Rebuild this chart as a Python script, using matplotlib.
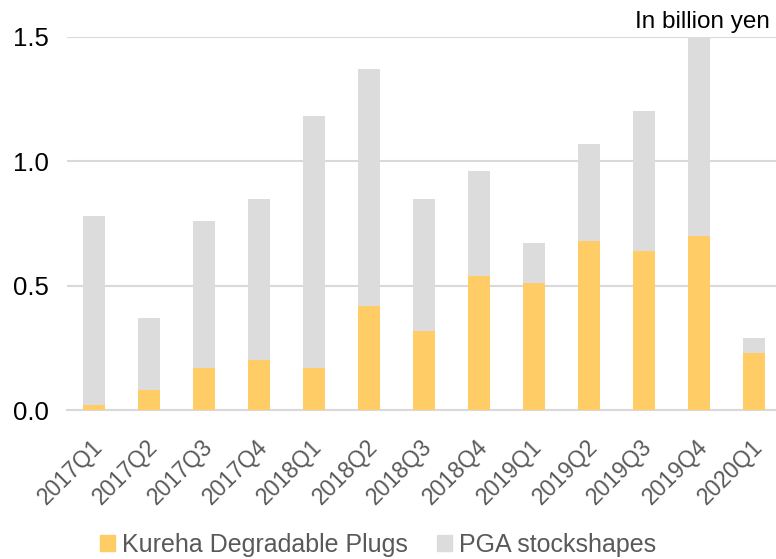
import numpy as np
import matplotlib
matplotlib.use("Agg")
import matplotlib.pyplot as plt
import matplotlib.transforms as mtransforms
from matplotlib.patches import Patch

quarters = ["2017Q1", "2017Q2", "2017Q3", "2017Q4", "2018Q1", "2018Q2", "2018Q3",
            "2018Q4", "2019Q1", "2019Q2", "2019Q3", "2019Q4", "2020Q1"]
plugs = [0.02, 0.08, 0.17, 0.20, 0.17, 0.42, 0.32, 0.54, 0.51, 0.68, 0.64, 0.70, 0.23]
totals = [0.78, 0.37, 0.76, 0.85, 1.18, 1.37, 0.85, 0.96, 0.67, 1.07, 1.20, 1.50, 0.29]
pga = [t - p for t, p in zip(totals, plugs)]
yticks = [0.0, 0.5, 1.0, 1.5]

orange = "#FFCC66"
grey = "#DCDCDC"

plt.rcParams["font.family"] = ["Liberation Sans", "DejaVu Sans"]

fig = plt.figure(figsize=(7.76, 5.59), dpi=100)
ax = fig.add_axes([66.5 / 776, 148.7 / 559, (776 - 66.5) / 776, 373.6 / 559])

x = np.arange(len(quarters))
ax.bar(x, plugs, width=0.4, color=orange, zorder=3)
ax.bar(x, pga, width=0.4, bottom=plugs, color=grey, zorder=3)

ax.set_xlim(-0.5, 12.4)
ax.set_ylim(0, 1.5)
ax.set_yticks(yticks)
ax.set_yticklabels([f"{v:.1f}" for v in yticks], fontsize=18.5, color="black")
ax.set_xticks(x)
ax.tick_params(axis="both", length=0)
ax.tick_params(axis="y", pad=13)
ax.tick_params(axis="x", pad=18)
ax.set_xticklabels(quarters, rotation=45, ha="right", va="top",
                   fontsize=16.5, color="#595959")
# nudge the rotated labels right, like the original
shift = mtransforms.ScaledTranslation(13 / 100, 0, fig.dpi_scale_trans)
for lab in ax.get_xticklabels():
    lab.set_transform(lab.get_transform() + shift)

ax.grid(axis="y", color="#D9D9D9", linewidth=1.5, zorder=0)
ax.set_axisbelow(True)
for s in ["top", "right", "left"]:
    ax.spines[s].set_visible(False)
ax.spines["bottom"].set_color("#D9D9D9")
ax.spines["bottom"].set_linewidth(1.5)

fig.text(770 / 776, 1 - 22 / 559, "In billion yen", ha="right", va="center",
         fontsize=17.5, color="black")

handles = [Patch(color=orange, label="Kureha Degradable Plugs"),
           Patch(color=grey, label="PGA stockshapes")]
leg = fig.legend(handles=handles, loc="center", bbox_to_anchor=(378 / 776, 1 - 545 / 559),
                 ncol=2, frameon=False, fontsize=18, handlelength=0.6, handleheight=0.6,
                 handletextpad=0.25, columnspacing=1.2)
for t in leg.get_texts():
    t.set_color("#595959")

fig.savefig("out.png", dpi=100)
